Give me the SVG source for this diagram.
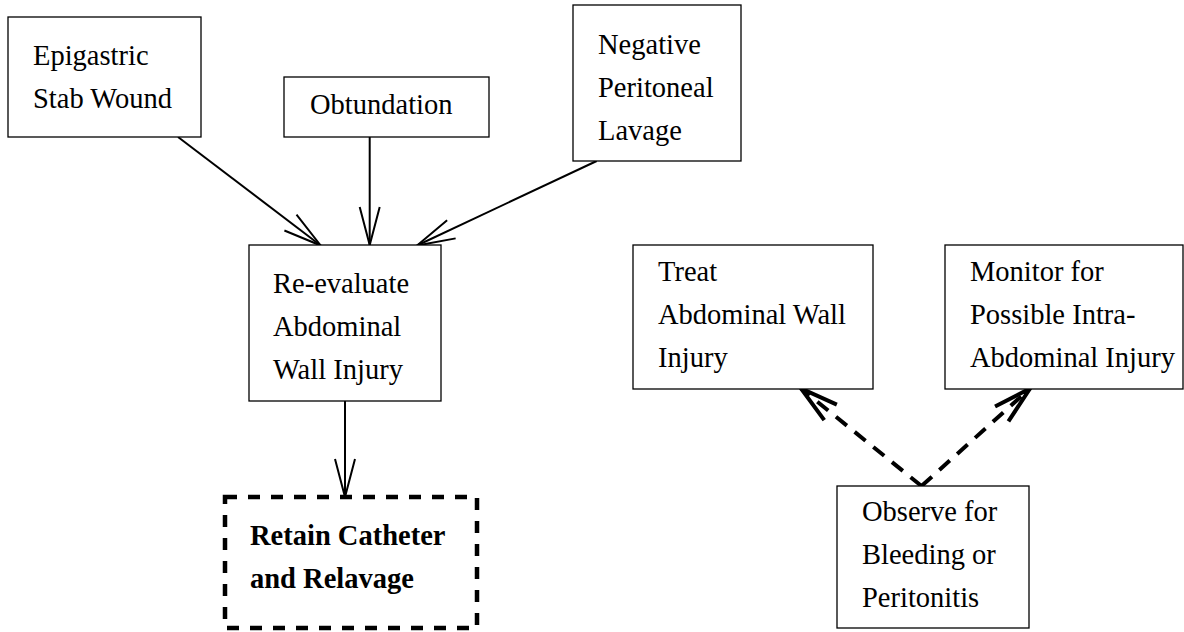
<svg xmlns="http://www.w3.org/2000/svg" width="1184" height="632" viewBox="0 0 1184 632">
  <style>
    .box { fill: #ffffff; stroke: #000000; stroke-width: 1.3; }
    .box-dashed { fill: #ffffff; stroke: #000000; stroke-width: 4.5; stroke-dasharray: 12 11; }
    .label { font-family: "Liberation Serif", "Times New Roman", serif; font-size: 28.5px; fill: #000000; }
    .bold { font-weight: bold; }
    .edge { fill: none; stroke: #000000; stroke-width: 2; }
    .edge-dashed { fill: none; stroke: #000000; stroke-width: 4; stroke-dasharray: 14 10; }
  </style>
  <defs>
    <marker id="open-arrow" markerUnits="userSpaceOnUse" orient="auto" markerWidth="50" markerHeight="30" refX="0" refY="0" viewBox="-45 -15 50 30" overflow="visible">
      <path d="M -38 -10 L 0 0 L -38 10" fill="none" stroke="#000000" stroke-width="2"/>
    </marker>
    <marker id="open-arrow-bold" markerUnits="userSpaceOnUse" orient="auto" markerWidth="50" markerHeight="30" refX="0" refY="0" viewBox="-45 -15 50 30" overflow="visible">
      <path d="M -38 -10 L 0 0 L -38 10" fill="none" stroke="#000000" stroke-width="4"/>
    </marker>
  </defs>

  <rect width="1184" height="632" fill="#ffffff"/>

  <!-- connectors -->
  <g id="connectors">
    <line class="edge" x1="178" y1="137" x2="320.7" y2="245.5" marker-end="url(#open-arrow)"/>
    <line class="edge" x1="369.7" y1="137" x2="369.7" y2="245" marker-end="url(#open-arrow)"/>
    <line class="edge" x1="596.7" y1="161" x2="417" y2="245.5" marker-end="url(#open-arrow)"/>
    <line class="edge" x1="345" y1="401" x2="345" y2="497" marker-end="url(#open-arrow)"/>
    <line class="edge-dashed" x1="921.5" y1="486" x2="801" y2="388.5" marker-end="url(#open-arrow-bold)"/>
    <line class="edge-dashed" x1="921.5" y1="486" x2="1030" y2="388.5" marker-end="url(#open-arrow-bold)"/>
  </g>

  <g id="node-epigastric">
    <rect class="box" x="8" y="17" width="193" height="120"/>
    <text class="label" x="33" y="65">Epigastric</text>
    <text class="label" x="33" y="108">Stab Wound</text>
  </g>

  <g id="node-obtundation">
    <rect class="box" x="284" y="77" width="205" height="60"/>
    <text class="label" x="310" y="114">Obtundation</text>
  </g>

  <g id="node-negative-lavage">
    <rect class="box" x="573" y="5" width="168" height="156"/>
    <text class="label" x="598" y="54">Negative</text>
    <text class="label" x="598" y="97">Peritoneal</text>
    <text class="label" x="598" y="140">Lavage</text>
  </g>

  <g id="node-reevaluate">
    <rect class="box" x="249" y="245" width="192" height="156"/>
    <text class="label" x="273" y="293">Re-evaluate</text>
    <text class="label" x="273" y="336">Abdominal</text>
    <text class="label" x="273" y="379">Wall Injury</text>
  </g>

  <g id="node-retain-catheter">
    <rect class="box-dashed" x="225" y="497" width="252" height="131"/>
    <text class="label bold" x="250" y="545">Retain Catheter</text>
    <text class="label bold" x="250" y="588">and Relavage</text>
  </g>

  <g id="node-treat">
    <rect class="box" x="633" y="245" width="240" height="144"/>
    <text class="label" x="658" y="281">Treat</text>
    <text class="label" x="658" y="324">Abdominal Wall</text>
    <text class="label" x="658" y="367">Injury</text>
  </g>

  <g id="node-monitor">
    <rect class="box" x="945" y="245" width="238" height="144"/>
    <text class="label" x="970" y="281">Monitor for</text>
    <text class="label" x="970" y="324">Possible Intra-</text>
    <text class="label" x="970" y="367">Abdominal Injury</text>
  </g>

  <g id="node-observe">
    <rect class="box" x="837" y="486" width="192" height="142"/>
    <text class="label" x="862" y="521">Observe for</text>
    <text class="label" x="862" y="564">Bleeding or</text>
    <text class="label" x="862" y="607">Peritonitis</text>
  </g>
</svg>
